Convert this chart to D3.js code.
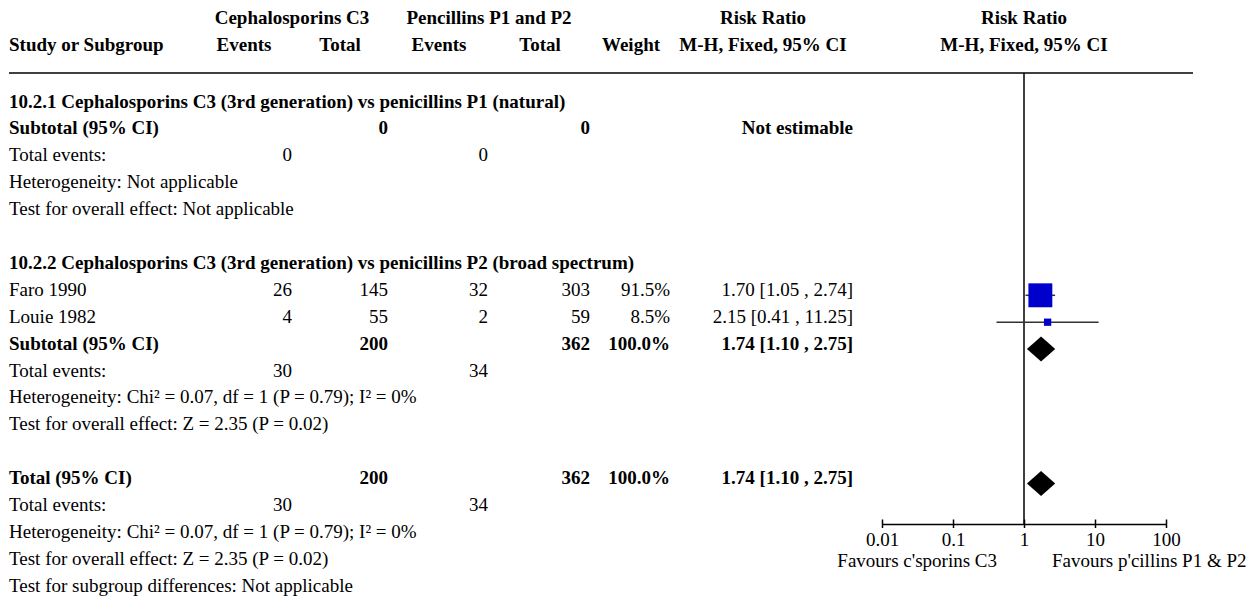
<!DOCTYPE html>
<html><head><meta charset="utf-8">
<script src="https://cdn.jsdelivr.net/npm/d3@7"></script>
<style>
html,body{margin:0;padding:0;background:#fff;}
svg{display:block;font-family:"Liberation Serif","Times New Roman",serif;}
</style></head>
<body>
<svg id="chart" width="1253" height="599"></svg>
<script>
// ---- data ----
const studies = ["Faro 1990", "Louie 1982"];
const c3Events = [26, 4];
const c3Total = [145, 55];
const pEvents = [32, 2];
const pTotal = [303, 59];
const weights = [91.5, 8.5];
const rr = [1.70, 2.15];
const ciLow = [1.05, 0.41];
const ciHigh = [2.74, 11.25];
const subgroupNames = ["10.2.1 Cephalosporins C3 (3rd generation) vs penicillins P1 (natural)",
                       "10.2.2 Cephalosporins C3 (3rd generation) vs penicillins P2 (broad spectrum)"];
const sub1 = {c3Total: 0, pTotal: 0, c3Events: 0, pEvents: 0};
const pooled = {rr: 1.74, low: 1.10, high: 2.75, c3Total: 200, pTotal: 362, c3Events: 30, pEvents: 34, weight: 100.0};
const hetText = "Heterogeneity: Chi² = 0.07, df = 1 (P = 0.79); I² = 0%";
const effText = "Test for overall effect: Z = 2.35 (P = 0.02)";
const axisTicks = [0.01, 0.1, 1, 10, 100];
const tickLabels = ["0.01", "0.1", "1", "10", "100"];
const favoursLeft = "Favours c'sporins C3";
const favoursRight = "Favours p'cillins P1 & P2";

// ---- layout ----
const FS = 19;
const svg = d3.select("#chart");
const colX = {label: 9, c3e: 292, c3t: 388, pe: 488, pt: 590, w: 670, ci: 853};
const y = d3.scaleLinear().domain([0, 18]).range([107.5, 107.5 + 18 * 26.9]);
const x = d3.scaleLog().domain([0.01, 100]).range([882, 1166]);
const sizeScale = d3.scaleSqrt().domain([0, 100]).range([0, 25]);
const fmt2 = d3.format(".2f");
const fmtW = d3.format(".1f");
const ciStr = (r, l, h) => `${fmt2(r)} [${fmt2(l)} , ${fmt2(h)}]`;

function txt(xp, yp, s, opts = {}) {
  svg.append("text").attr("x", xp).attr("y", yp)
    .attr("font-size", FS)
    .attr("font-weight", opts.bold ? "bold" : "normal")
    .attr("text-anchor", opts.anchor || "start")
    .attr("fill", "#000")
    .text(s);
}

// header
txt(292, 24, "Cephalosporins C3", {bold: true, anchor: "middle"});
txt(489, 24, "Pencillins P1 and P2", {bold: true, anchor: "middle"});
txt(763, 24, "Risk Ratio", {bold: true, anchor: "middle"});
txt(1024, 24, "Risk Ratio", {bold: true, anchor: "middle"});
txt(9, 51, "Study or Subgroup", {bold: true});
txt(244, 51, "Events", {bold: true, anchor: "middle"});
txt(340, 51, "Total", {bold: true, anchor: "middle"});
txt(439, 51, "Events", {bold: true, anchor: "middle"});
txt(540, 51, "Total", {bold: true, anchor: "middle"});
txt(631, 51, "Weight", {bold: true, anchor: "middle"});
txt(763, 51, "M-H, Fixed, 95% CI", {bold: true, anchor: "middle"});
txt(1024, 51, "M-H, Fixed, 95% CI", {bold: true, anchor: "middle"});

svg.append("line").attr("x1", 9).attr("x2", 1193).attr("y1", 73).attr("y2", 73)
  .attr("stroke", "#000").attr("stroke-width", 1.6);

// subgroup 1
txt(colX.label, y(0), subgroupNames[0], {bold: true});
txt(colX.label, y(1), "Subtotal (95% CI)", {bold: true});
txt(colX.c3t, y(1), sub1.c3Total, {bold: true, anchor: "end"});
txt(colX.pt, y(1), sub1.pTotal, {bold: true, anchor: "end"});
txt(colX.ci, y(1), "Not estimable", {bold: true, anchor: "end"});
txt(colX.label, y(2), "Total events:");
txt(colX.c3e, y(2), sub1.c3Events, {anchor: "end"});
txt(colX.pe, y(2), sub1.pEvents, {anchor: "end"});
txt(colX.label, y(3), "Heterogeneity: Not applicable");
txt(colX.label, y(4), "Test for overall effect: Not applicable");

// subgroup 2
txt(colX.label, y(6), subgroupNames[1], {bold: true});
studies.forEach((s, i) => {
  const r = 7 + i;
  txt(colX.label, y(r), s);
  txt(colX.c3e, y(r), c3Events[i], {anchor: "end"});
  txt(colX.c3t, y(r), c3Total[i], {anchor: "end"});
  txt(colX.pe, y(r), pEvents[i], {anchor: "end"});
  txt(colX.pt, y(r), pTotal[i], {anchor: "end"});
  txt(colX.w, y(r), fmtW(weights[i]) + "%", {anchor: "end"});
  txt(colX.ci, y(r), ciStr(rr[i], ciLow[i], ciHigh[i]), {anchor: "end"});
});
function pooledRows(r0, label) {
  txt(colX.label, y(r0), label, {bold: true});
  txt(colX.c3t, y(r0), pooled.c3Total, {bold: true, anchor: "end"});
  txt(colX.pt, y(r0), pooled.pTotal, {bold: true, anchor: "end"});
  txt(colX.w, y(r0), fmtW(pooled.weight) + "%", {bold: true, anchor: "end"});
  txt(colX.ci, y(r0), ciStr(pooled.rr, pooled.low, pooled.high), {bold: true, anchor: "end"});
  txt(colX.label, y(r0 + 1), "Total events:");
  txt(colX.c3e, y(r0 + 1), pooled.c3Events, {anchor: "end"});
  txt(colX.pe, y(r0 + 1), pooled.pEvents, {anchor: "end"});
  txt(colX.label, y(r0 + 2), hetText);
  txt(colX.label, y(r0 + 3), effText);
}
pooledRows(9, "Subtotal (95% CI)");
pooledRows(14, "Total (95% CI)");
txt(colX.label, y(18), "Test for subgroup differences: Not applicable");

// ---- plot ----
const AXY = 524;
const markY = r => y(r) - 0.5;
svg.append("line").attr("x1", x(1)).attr("x2", x(1)).attr("y1", 73).attr("y2", AXY)
  .attr("stroke", "#000").attr("stroke-width", 1.5);

studies.forEach((s, i) => {
  const my = markY(7 + i);
  svg.append("line").attr("x1", x(ciLow[i])).attr("x2", x(ciHigh[i]))
    .attr("y1", my).attr("y2", my).attr("stroke", "#333").attr("stroke-width", 1.5);
  const sz = Math.max(6, sizeScale(weights[i]));
  svg.append("rect").attr("x", x(rr[i]) - sz / 2).attr("y", my - sz / 2)
    .attr("width", sz).attr("height", sz).attr("fill", "#0000cc");
});
[9, 14].forEach(r => {
  const my = markY(r);
  const pts = [[x(pooled.low), my], [x(pooled.rr), my - 12.5], [x(pooled.high), my], [x(pooled.rr), my + 12.5]];
  svg.append("path").attr("d", d3.line()(pts) + "Z").attr("fill", "#000");
});

// axis
const ax = svg.append("g").attr("transform", `translate(0,${AXY})`)
  .call(d3.axisBottom(x).tickValues(axisTicks).tickFormat((d, i) => tickLabels[i])
    .tickSizeInner(0).tickSizeOuter(0).tickPadding(0));
ax.select(".domain").attr("stroke", "#000").attr("stroke-width", 1.5);
ax.selectAll(".tick line").attr("y1", -4.5).attr("y2", 4).attr("stroke", "#000").attr("stroke-width", 1.5);
ax.selectAll(".tick text").attr("y", 21.5).attr("dy", null)
  .attr("font-size", FS).attr("font-family", "Liberation Serif").attr("fill", "#000");
txt(x(1) - 27, 567, favoursLeft, {anchor: "end"});
txt(x(1) + 28, 567, favoursRight);
</script>
</body></html>
